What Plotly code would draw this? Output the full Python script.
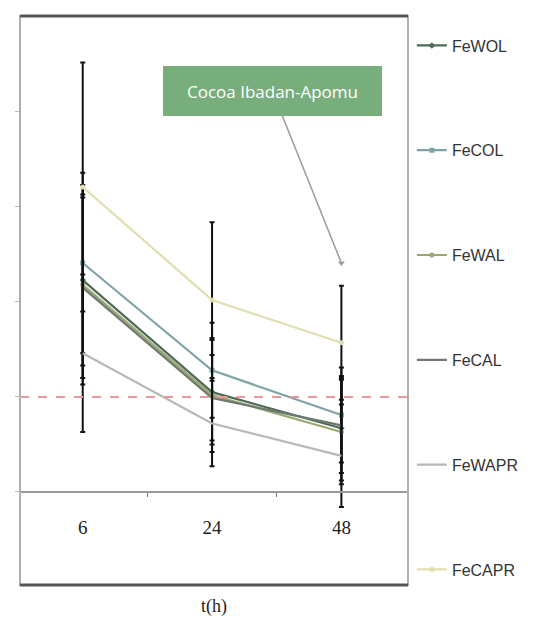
import plotly.graph_objects as go

# ---- data ----
time_labels = ["6", "24", "48"]
time_pos = [0, 1, 2]
series_names = ["FeWOL", "FeCOL", "FeWAL", "FeCAL", "FeWAPR", "FeCAPR"]
FeWOL = [2.23, 1.05, 0.67]
FeCOL = [2.41, 1.28, 0.81]
FeWAL = [2.18, 1.02, 0.63]
FeCAL = [2.15, 0.99, 0.70]
FeWAPR = [1.46, 0.72, 0.38]
FeCAPR = [3.21, 2.02, 1.57]
err_FeWOL = [0.90, 0.55, 0.55]
err_FeCOL = [0.95, 0.50, 0.50]
err_FeWAL = [1.05, 0.60, 0.55]
err_FeCAL = [0.95, 0.45, 0.50]
err_FeWAPR = [0.83, 0.45, 0.54]
err_FeCAPR = [1.31, 0.82, 0.60]
outlier_x = [2]
outlier_y = [2.41]
threshold = 1.0
y_ticks = [0, 1, 2, 3, 4]
note_text = "Cocoa Ibadan-Apomu"

values = [FeWOL, FeCOL, FeWAL, FeCAL, FeWAPR, FeCAPR]
errors = [err_FeWOL, err_FeCOL, err_FeWAL, err_FeCAL, err_FeWAPR, err_FeCAPR]
colors = ["#4f6b58", "#7fa3a8", "#9aa86e", "#6e7a70", "#b3bbb3", "#e2dfae"]
modes = ["lines+markers", "lines+markers", "lines+markers", "lines", "lines", "lines+markers"]
symbols = ["diamond", "square", "circle", "circle", "circle", "circle"]

fig = go.Figure()
for name, v, e, c, m, s in zip(series_names, values, errors, colors, modes, symbols):
    fig.add_trace(go.Scatter(
        x=time_pos, y=v, name=name, mode=m, legendgroup=name,
        line=dict(color=c, width=2.2),
        marker=dict(color=c, size=5, symbol=s),
        error_y=dict(type="data", array=e, visible=True, color="#111111",
                     thickness=2, width=2.5),
    ))

fig.add_trace(go.Scatter(
    x=outlier_x, y=outlier_y, mode="markers", showlegend=False,
    marker=dict(color="#9a9a9a", size=6, symbol="triangle-down"),
))

fig.add_hline(y=threshold, line=dict(color="#e89a9a", width=2, dash="dash"))

fig.add_annotation(
    x=outlier_x[0], y=outlier_y[0], text=note_text,
    showarrow=True, arrowhead=0, arrowwidth=1.5, arrowcolor="#9a9a9a",
    ax=-69, ay=-172, standoff=2,
    width=193, height=24,
    bgcolor="#78ad7c", borderpad=12, bordercolor="#78ad7c",
    font=dict(family="Open Sans", size=17, color="white"),
)

fig.add_annotation(
    xref="paper", yref="paper", x=0.5, y=-0.015, yanchor="top", showarrow=False,
    text="t(h)", font=dict(family="Liberation Serif", size=18, color="#222222"),
)

# frame
fig.add_shape(type="rect", xref="paper", yref="paper", x0=0, x1=1, y0=0, y1=1,
              line=dict(color="#b0b0b0", width=2))
fig.add_shape(type="line", xref="paper", yref="paper", x0=0, x1=1, y0=1, y1=1,
              line=dict(color="#555555", width=3))
fig.add_shape(type="line", xref="paper", yref="paper", x0=0, x1=1, y0=0, y1=0,
              line=dict(color="#555555", width=3))

zero_pos = (585 - 492) / 569.0

fig.update_layout(
    width=533, height=609,
    margin=dict(l=12, r=133, t=8, b=32),
    paper_bgcolor="white", plot_bgcolor="white",
    showlegend=True,
    legend=dict(x=1.01, xanchor="left", y=0.978, yanchor="top",
                tracegroupgap=81, traceorder="grouped",
                font=dict(family="Liberation Sans", size=16, color="#333333"),
                bgcolor="rgba(0,0,0,0)"),
    xaxis=dict(
        range=[-0.485, 2.515], tickvals=time_pos, ticktext=time_labels,
        anchor="free", position=zero_pos,
        showline=True, linecolor="#9a9a9a", linewidth=1.5,
        ticks="", showgrid=False, zeroline=False,
        ticklabelstandoff=18,
        tickfont=dict(family="Liberation Serif", size=19, color="#222222"),
        minor=dict(tickvals=[0.5, 1.5], ticks="outside", ticklen=4, tickcolor="#777777"),
    ),
    yaxis=dict(
        range=[-0.98, 5.01], tickvals=y_ticks, showticklabels=False,
        ticks="outside", ticklen=4, tickcolor="#bbbbbb",
        showgrid=False, zeroline=False, showline=False,
    ),
)

fig.write_html("out.html")
